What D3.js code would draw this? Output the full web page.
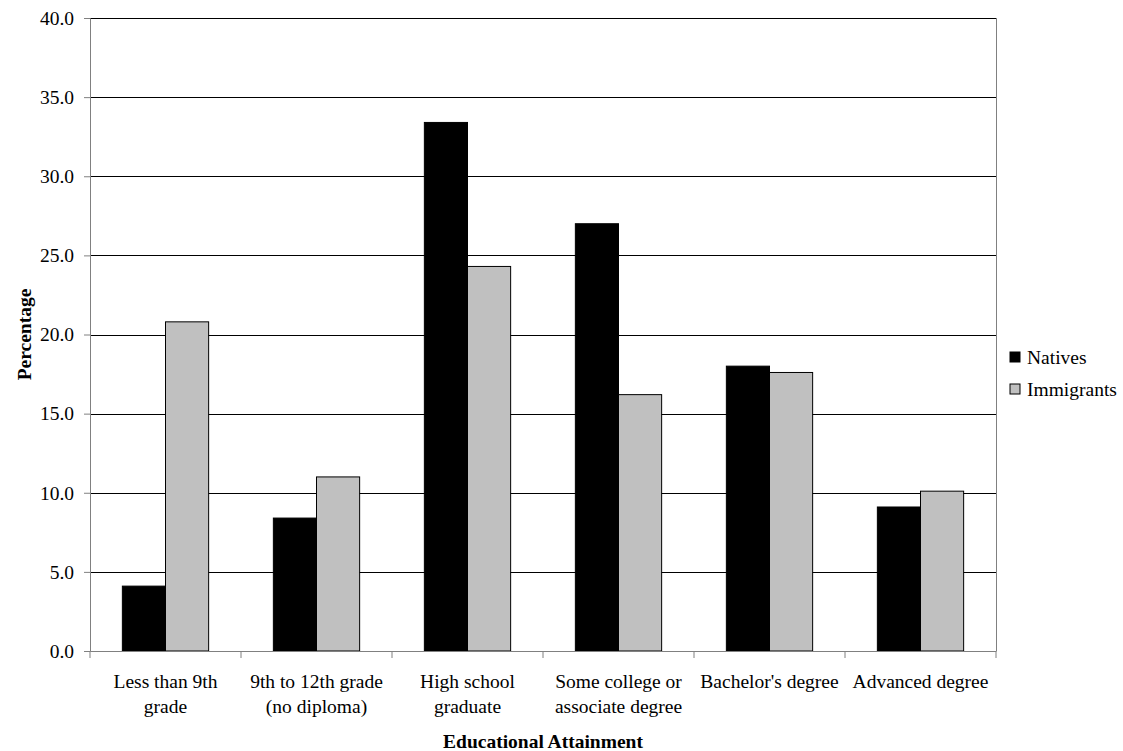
<!DOCTYPE html>
<html>
<head>
<meta charset="utf-8">
<script src="https://cdn.jsdelivr.net/npm/d3@7"></script>
<style>
  body { margin: 0; background: #fff; }
</style>
</head>
<body>
<svg></svg>
<script>
const categories = [
  ["Less than 9th", "grade"],
  ["9th to 12th grade", "(no diploma)"],
  ["High school", "graduate"],
  ["Some college or", "associate degree"],
  ["Bachelor's degree"],
  ["Advanced degree"]
];
const natives = [4.1, 8.4, 33.4, 27.0, 18.0, 9.1];
const immigrants = [20.8, 11.0, 24.3, 16.2, 17.6, 10.1];
const seriesNames = ["Natives", "Immigrants"];
const seriesColors = ["#000000", "#c0c0c0"];
const yTicks = [0, 5, 10, 15, 20, 25, 30, 35, 40];

const width = 1123, height = 751;
const margin = {top: 18, right: 127, bottom: 100, left: 90};
const fs = 19.5;
const serif = '"Liberation Serif", "Times New Roman", serif';
const svg = d3.select("svg").attr("width", width).attr("height", height);

const x = d3.scaleBand()
  .domain(d3.range(categories.length))
  .range([margin.left, width - margin.right]);
const y = d3.scaleLinear().domain([0, 40]).range([height - margin.bottom, margin.top]);

// bar width with 150% gap
const barW = x.bandwidth() / 3.5;
const xs = d3.scaleBand().domain([0, 1]).range([0, barW * 2]);

// gridlines
svg.append("g")
  .selectAll("line")
  .data(yTicks.filter(t => t > 0))
  .enter()
  .append("line")
  .attr("x1", margin.left)
  .attr("x2", width - margin.right)
  .attr("y1", d => Math.round(y(d)) + 0.5)
  .attr("y2", d => Math.round(y(d)) + 0.5)
  .attr("stroke", "#000")
  .attr("stroke-width", 1);

// right border of plot
svg.append("line")
  .attr("x1", width - margin.right + 0.5).attr("x2", width - margin.right + 0.5)
  .attr("y1", margin.top).attr("y2", height - margin.bottom)
  .attr("stroke", "#808080");

// bars
const data = categories.map((c, i) => [natives[i], immigrants[i]]);
const groups = svg.append("g")
  .selectAll("g")
  .data(data)
  .enter()
  .append("g")
  .attr("transform", (d, i) => `translate(${x(i) + (x.bandwidth() - barW * 2) / 2},0)`);

groups.selectAll("rect")
  .data(d => d)
  .enter()
  .append("rect")
  .attr("x", (d, j) => xs(j))
  .attr("width", xs.bandwidth())
  .attr("y", d => y(d))
  .attr("height", d => y(0) - y(d))
  .attr("fill", (d, j) => seriesColors[j])
  .attr("stroke", "#000")
  .attr("stroke-width", 1);

// y axis
const yAxis = svg.append("g")
  .attr("transform", `translate(${margin.left},0)`)
  .call(d3.axisLeft(y).tickValues(yTicks).tickFormat(d3.format(".1f")).tickSize(6).tickPadding(10));
yAxis.select(".domain").attr("stroke", "#808080");
yAxis.selectAll(".tick line").attr("stroke", "#808080");
yAxis.selectAll("text")
  .style("font-family", serif)
  .style("font-size", fs + "px")
  .attr("fill", "#000");

// x axis
const xAxis = svg.append("g")
  .attr("transform", `translate(0,${y(0)})`)
  .call(d3.axisBottom(x).tickSize(0).tickFormat(""));
xAxis.select(".domain").attr("stroke", "#808080");
svg.append("g")
  .selectAll("line")
  .data(d3.range(categories.length + 1))
  .enter()
  .append("line")
  .attr("x1", i => margin.left + i * x.step())
  .attr("x2", i => margin.left + i * x.step())
  .attr("y1", y(0))
  .attr("y2", y(0) + 7)
  .attr("stroke", "#808080");

// category labels
const labels = svg.append("g")
  .selectAll("text")
  .data(categories)
  .enter()
  .append("text")
  .attr("text-anchor", "middle")
  .style("font-family", serif)
  .style("font-size", fs + "px")
  .attr("x", (d, i) => x(i) + x.bandwidth() / 2)
  .attr("y", y(0) + 37);
labels.selectAll("tspan")
  .data(d => d)
  .enter()
  .append("tspan")
  .attr("x", function() { return d3.select(this.parentNode).attr("x"); })
  .attr("dy", (d, k) => k === 0 ? 0 : 25)
  .text(d => d);

// axis titles
svg.append("text")
  .attr("x", (margin.left + width - margin.right) / 2)
  .attr("y", 748)
  .attr("text-anchor", "middle")
  .style("font-family", serif)
  .style("font-size", fs + "px")
  .attr("font-weight", "bold")
  .text("Educational Attainment");

svg.append("text")
  .attr("transform", `translate(31,${(margin.top + height - margin.bottom) / 2}) rotate(-90)`)
  .attr("text-anchor", "middle")
  .style("font-family", serif)
  .style("font-size", fs + "px")
  .attr("font-weight", "bold")
  .text("Percentage");

// legend
const legend = svg.append("g")
  .selectAll("g")
  .data(seriesNames)
  .enter()
  .append("g")
  .attr("transform", (d, i) => `translate(1010,${352 + i * 32})`);
legend.append("rect")
  .attr("width", 10).attr("height", 10)
  .attr("fill", (d, i) => seriesColors[i])
  .attr("stroke", "#000");
legend.append("text")
  .attr("x", 17).attr("y", 12)
  .style("font-family", serif)
  .style("font-size", fs + "px")
  .text(d => d);
</script>
</body>
</html>
